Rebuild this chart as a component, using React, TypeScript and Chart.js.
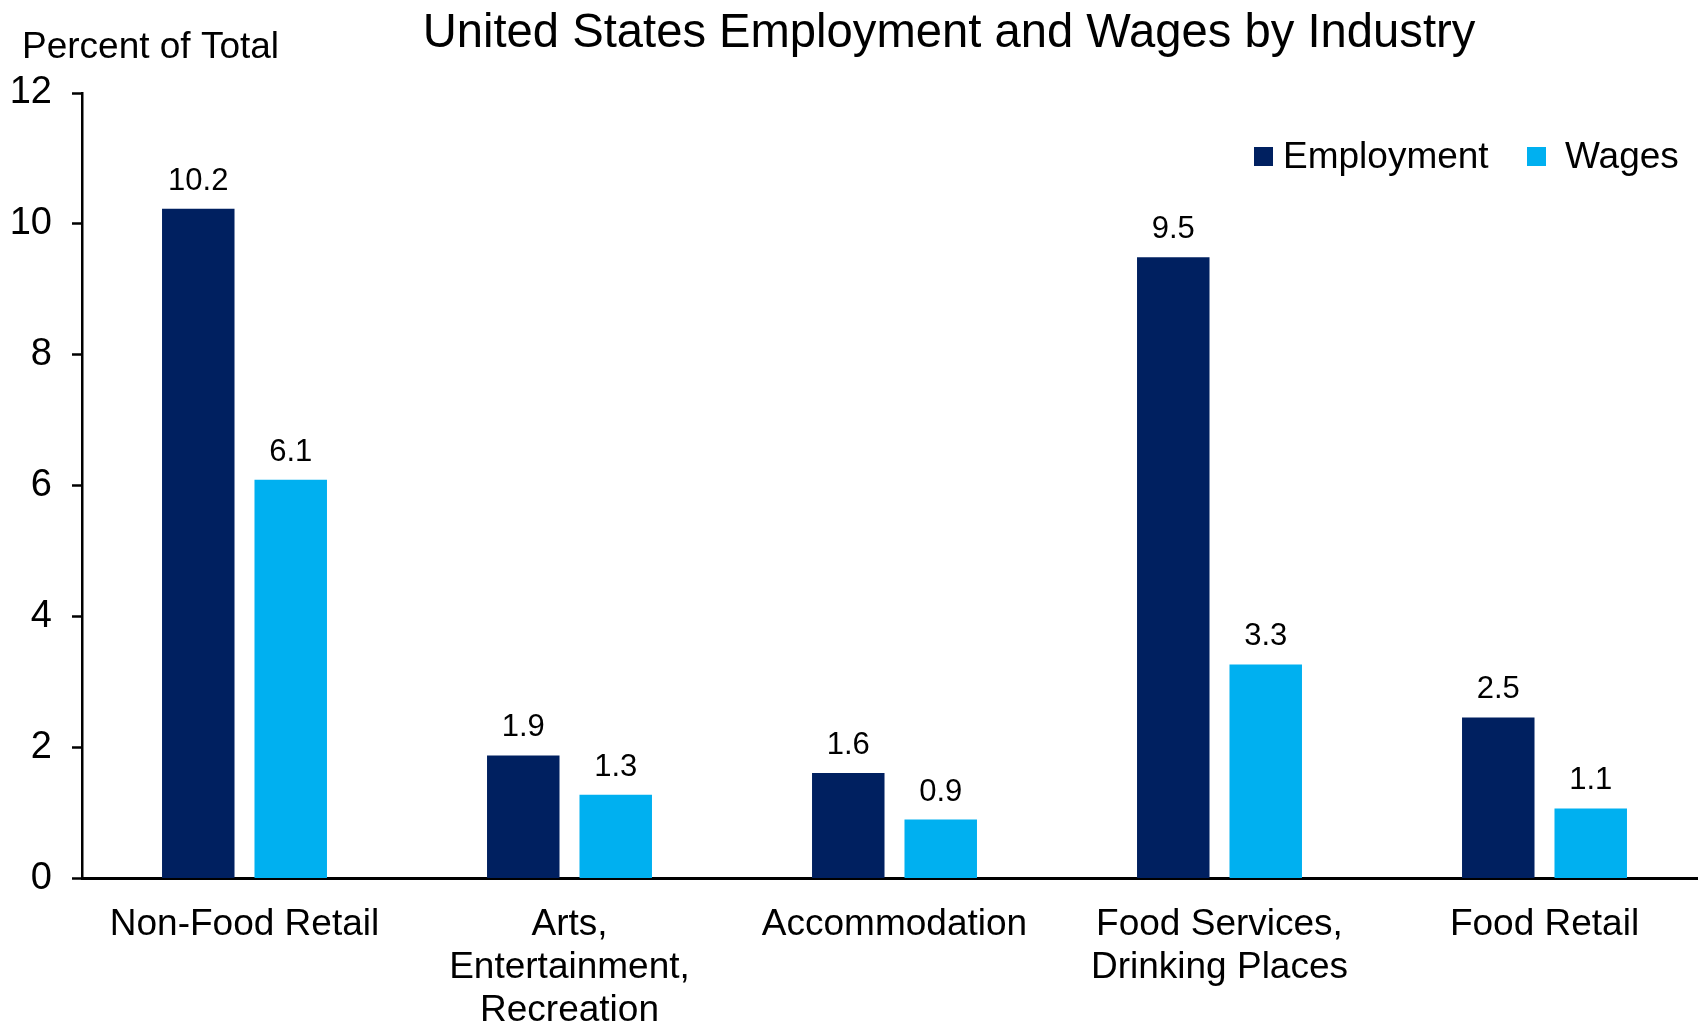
import React, { useEffect, useRef } from "react";
import { Chart, registerables } from "chart.js";

Chart.register(...registerables);

const chartTitle = "United States Employment and Wages by Industry";
const yAxisTitle = "Percent of Total";
const categories: (string | string[])[] = [
  "Non-Food Retail",
  ["Arts,", "Entertainment,", "Recreation"],
  "Accommodation",
  ["Food Services,", "Drinking Places"],
  "Food Retail",
];
const seriesNames = ["Employment", "Wages"];
const employment = [10.23, 1.88, 1.61, 9.49, 2.46];
const wages = [6.09, 1.28, 0.9, 3.27, 1.07];
const seriesColors = ["#002060", "#00B0F0"];
const yMin = 0;
const yMax = 12;
const yStep = 2;

const FONT = "'Liberation Sans', Arial, Helvetica, sans-serif";

export default function App() {
  const ref = useRef<HTMLCanvasElement | null>(null);

  useEffect(() => {
    if (!ref.current) return;

    const overlay = {
      id: "overlay",
      afterDatasetsDraw(chart: any) {
        const ctx = chart.ctx;
        ctx.save();
        ctx.fillStyle = "#000";
        ctx.font = `31px ${FONT}`;
        ctx.textAlign = "center";
        ctx.textBaseline = "alphabetic";
        chart.data.datasets.forEach((ds: any, i: number) => {
          const meta = chart.getDatasetMeta(i);
          meta.data.forEach((el: any, j: number) => {
            const v = ds.data[j] as number;
            ctx.fillText(v.toFixed(1), el.x, el.y - 19);
          });
        });
        ctx.restore();
      },
      afterDraw(chart: any) {
        const ctx = chart.ctx;
        ctx.save();
        ctx.fillStyle = "#000";
        ctx.textBaseline = "alphabetic";
        // title
        ctx.font = `47.2px ${FONT}`;
        ctx.textAlign = "center";
        ctx.fillText(chartTitle, 949, 47);
        // y axis title
        ctx.font = `37px ${FONT}`;
        ctx.textAlign = "left";
        ctx.fillText(yAxisTitle, 22, 58);
        // legend
        const boxX = [1254, 1527];
        const textX = [1283, 1565];
        ctx.font = `37px ${FONT}`;
        chart.data.datasets.forEach((ds: any, i: number) => {
          ctx.fillStyle = ds.backgroundColor;
          ctx.fillRect(boxX[i], 147, 19, 19);
          ctx.fillStyle = "#000";
          ctx.fillText(ds.label, textX[i], 168);
        });
        ctx.restore();
      },
    };

    const chart = new Chart(ref.current, {
      type: "bar",
      data: {
        labels: categories as any,
        datasets: [
          {
            label: seriesNames[0],
            data: employment,
            backgroundColor: seriesColors[0],
            categoryPercentage: 0.569,
            barPercentage: 0.784,
          },
          {
            label: seriesNames[1],
            data: wages,
            backgroundColor: seriesColors[1],
            categoryPercentage: 0.569,
            barPercentage: 0.784,
          },
        ],
      },
      options: {
        responsive: false,
        animation: false,
        devicePixelRatio: 1,
        layout: { padding: { top: 93, left: 0, right: 0, bottom: 0 } },
        plugins: {
          legend: { display: false },
          title: { display: false },
          tooltip: { enabled: false },
        },
        scales: {
          x: {
            offset: true,
            grid: { display: false, drawTicks: false },
            border: { display: true, color: "#000", width: 3 },
            ticks: {
              color: "#000",
              font: { family: FONT, size: 37, lineHeight: 1.16 },
              padding: 25,
              maxRotation: 0,
              minRotation: 0,
              autoSkip: false,
            },
            afterFit: (scale: any) => {
              scale.height = 1024 - 878.5;
            },
          },
          y: {
            min: yMin,
            max: yMax,
            grid: {
              drawOnChartArea: false,
              drawTicks: true,
              tickLength: 10,
              tickWidth: 2.5,
              tickColor: "#000",
            },
            border: { display: true, color: "#000", width: 2.5 },
            ticks: {
              stepSize: yStep,
              color: "#000",
              font: { family: FONT, size: 38 },
              padding: 20,
            },
            afterFit: (scale: any) => {
              scale.width = 82;
            },
          },
        },
      },
      plugins: [overlay],
    } as any);

    return () => chart.destroy();
  }, []);

  return (
    <div
      style={{
        position: "fixed",
        left: 0,
        top: 0,
        width: "100vw",
        height: "100vh",
        overflow: "hidden",
        background: "#fff",
      }}
    >
      <canvas ref={ref} width={1707} height={1024} style={{ display: "block" }} />
    </div>
  );
}
